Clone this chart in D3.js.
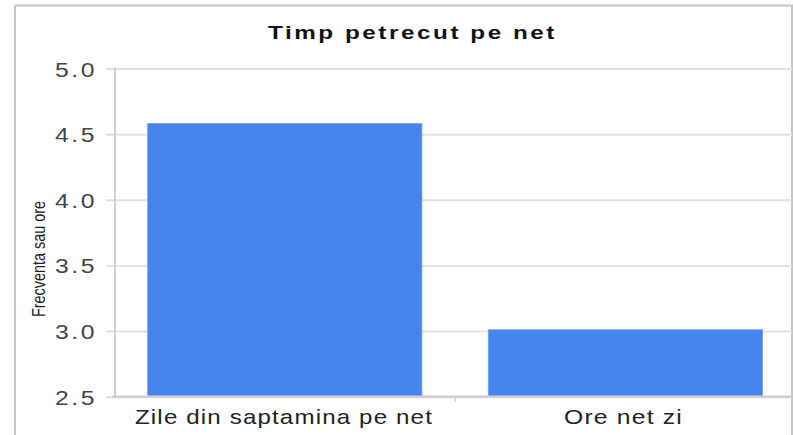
<!DOCTYPE html>
<html><head><meta charset="utf-8">
<script src="https://cdn.jsdelivr.net/npm/d3@7"></script>
<style>body{margin:0;background:#fff}svg{display:block}</style>
</head><body>
<svg id="c" width="793" height="435"></svg>
<script>
const categories = ["Zile din saptamina pe net", "Ore net zi"];
const values = [4.58, 3.01];
const yTicks = [2.5, 3.0, 3.5, 4.0, 4.5, 5.0];
const title = "Timp petrecut pe net";
const yTitle = "Frecventa sau ore";

const svg = d3.select("#c");
const pLeft = 115, pRight = 795.2, pTop = 68.5, pBottom = 396.7;

// outer frame
svg.append("path").attr("d", `M15,440V5.5H792V440`).attr("fill","none").attr("stroke","#c6c6c6").attr("stroke-width",2);

const x = d3.scaleBand().domain(categories).range([pLeft, pRight]).paddingInner(0.195).paddingOuter(0.096);
const y = d3.scaleLinear().domain([2.5, 5]).range([pBottom, pTop]);

// gridlines via axis
const gy = svg.append("g").attr("transform", `translate(${pLeft},0)`)
  .call(d3.axisLeft(y).tickValues(yTicks).tickSize(-(792-pLeft)).tickFormat(""));
gy.select(".domain").remove();
gy.selectAll(".tick line").attr("stroke","#e2e2e2").attr("stroke-width",2).attr("x1",-9);

// tick labels
svg.append("g").selectAll("text").data(yTicks).join("text")
  .attr("x", 55).attr("y", d => y(d) + 8)
  .attr("font-family","Liberation Sans, Arial, sans-serif").attr("font-size",19.5)
  .attr("letter-spacing", 2)
  .attr("fill","#444")
  .attr("textLength", 42).attr("lengthAdjust","spacingAndGlyphs")
  .text(d => d3.format(".1f")(d));

// bars
svg.append("g").selectAll("rect").data(values).join("rect")
  .attr("x", (d,i) => x(categories[i]))
  .attr("y", d => y(d))
  .attr("width", x.bandwidth())
  .attr("height", d => pBottom - y(d))
  .attr("fill","#4684ee")
  .attr("stroke","#6f9ff2").attr("stroke-width",0.8);

// axes lines
svg.append("line").attr("x1",pLeft).attr("x2",pLeft).attr("y1",pTop-1).attr("y2",pBottom+1)
  .attr("stroke","#d0d0d0").attr("stroke-width",2);
const gx = svg.append("g").attr("transform", `translate(0,${pBottom})`)
  .call(d3.axisBottom(x).tickSize(0).tickFormat(""));
gx.select(".domain").attr("d", `M${pLeft-3},0H792`).attr("stroke","#d0d0d0").attr("stroke-width",2.5);
const sepX = (x(categories[0]) + x.bandwidth() + x(categories[1])) / 2;
svg.append("line").attr("x1", sepX).attr("x2", sepX).attr("y1",pBottom).attr("y2",pBottom+5)
  .attr("stroke","#d0d0d0").attr("stroke-width",1.5);

// x labels
const labelW = [298, 119];
const labelX = [135, 564];
svg.append("g").selectAll("text").data(categories).join("text")
  .attr("x", (d,i) => labelX[i])
  .attr("y", 424)
  .attr("font-family","Liberation Sans, Arial, sans-serif").attr("font-size",21)
  .attr("letter-spacing", 1)
  .attr("fill","#222")
  .attr("textLength", (d,i) => labelW[i]).attr("lengthAdjust","spacingAndGlyphs")
  .text(d => d);

// title
svg.append("text").attr("x", 268).attr("y", 38.5)
  .attr("font-family","Liberation Sans, Arial, sans-serif").attr("font-weight","bold").attr("font-size",19)
  .attr("letter-spacing", 2)
  .attr("fill","#111")
  .attr("textLength", 289).attr("lengthAdjust","spacingAndGlyphs")
  .text(title);

// y title
svg.append("text").attr("transform","translate(45,259) rotate(-90)").attr("text-anchor","middle")
  .attr("font-family","Liberation Sans, Arial, sans-serif").attr("font-size",19)
  .attr("fill","#222")
  .attr("textLength", 116).attr("lengthAdjust","spacingAndGlyphs")
  .text(yTitle);
</script>
</body></html>
